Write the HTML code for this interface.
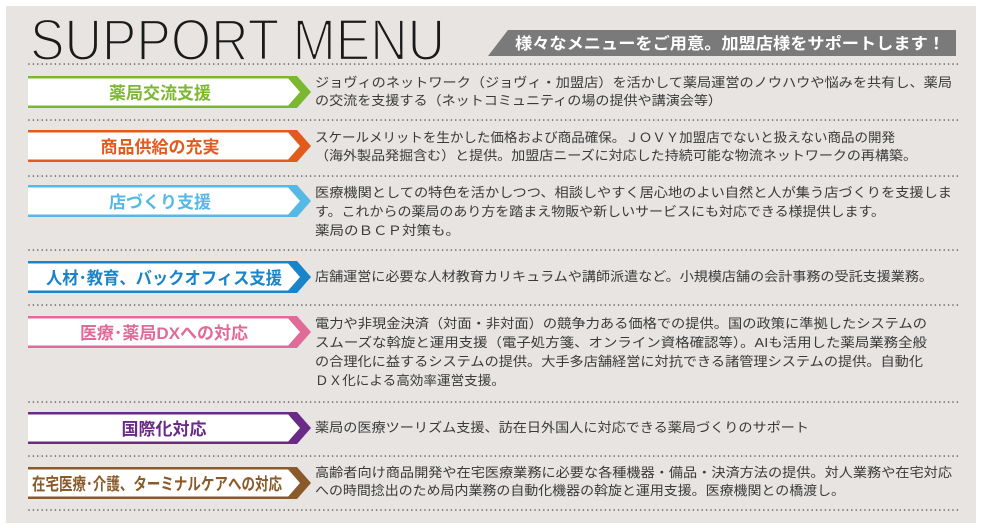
<!DOCTYPE html>
<html><head><meta charset="utf-8"><style>
html,body{margin:0;padding:0;background:#fff;}
svg{display:block;}
.t{font-family:"Liberation Sans","Noto Sans CJK JP",sans-serif;font-size:13px;fill:#3a3a3a;}
.l{font-family:"Liberation Sans","Noto Sans CJK JP",sans-serif;font-size:17px;font-weight:bold;text-anchor:middle;}
</style></head><body>
<svg width="981" height="528" viewBox="0 0 981 528" xmlns="http://www.w3.org/2000/svg">
<rect x="6" y="6" width="970" height="517" fill="#e7e4e1"/>
<text x="30" y="60" font-family="Liberation Sans, sans-serif" font-size="58" fill="#1a1a1a" textLength="415" lengthAdjust="spacingAndGlyphs" stroke="#e7e4e1" stroke-width="2.2" paint-order="normal">SUPPORT MENU</text>
<polygon points="508,30 956,30 956,56 488,56" fill="#7a7a7a"/>
<text x="515" y="49" font-family="Liberation Sans, Noto Sans CJK JP, sans-serif" font-size="16" font-weight="bold" fill="#fff" textLength="430" lengthAdjust="spacingAndGlyphs">様々なメニューをご用意。加盟店様をサポートします！</text>
<g stroke="#555" stroke-width="1.6" stroke-linecap="round" stroke-dasharray="0 4.4">
<line x1="29" y1="64" x2="958" y2="64"/>
<line x1="29" y1="120" x2="958" y2="120"/>
<line x1="29" y1="176" x2="958" y2="176"/>
<line x1="29" y1="250" x2="958" y2="250"/>
<line x1="29" y1="305" x2="958" y2="305"/>
<line x1="29" y1="402" x2="958" y2="402"/>
<line x1="29" y1="456" x2="958" y2="456"/>
<line x1="29" y1="510" x2="958" y2="510"/>
</g>
<g>
<polygon points="28,76 290,76 304,92 290,108 28,108" fill="#fff"/>
<rect x="28" y="76" width="262" height="2.5" fill="#7cb82f"/><rect x="28" y="105.5" width="262" height="2.5" fill="#7cb82f"/>
<polygon points="286,76 297,76 311,92 297,108 286,108 300,92" fill="#7cb82f"/>
<text class="l" x="160" y="99" fill="#7cb82f">薬局交流支援</text>
<polygon points="28,130 290,130 304,146 290,162 28,162" fill="#fff"/>
<rect x="28" y="130" width="262" height="2.5" fill="#e25a1c"/><rect x="28" y="159.5" width="262" height="2.5" fill="#e25a1c"/>
<polygon points="286,130 297,130 311,146 297,162 286,162 300,146" fill="#e25a1c"/>
<text class="l" x="160" y="153" fill="#e25a1c">商品供給の充実</text>
<polygon points="28,185 290,185 304,201 290,217 28,217" fill="#fff"/>
<rect x="28" y="185" width="262" height="2.5" fill="#55b9e6"/><rect x="28" y="214.5" width="262" height="2.5" fill="#55b9e6"/>
<polygon points="286,185 297,185 311,201 297,217 286,217 300,201" fill="#55b9e6"/>
<text class="l" x="160" y="208" fill="#55b9e6">店づくり支援</text>
<polygon points="28,261 290,261 304,277 290,293 28,293" fill="#fff"/>
<rect x="28" y="261" width="262" height="2.5" fill="#1a84c8"/><rect x="28" y="290.5" width="262" height="2.5" fill="#1a84c8"/>
<polygon points="286,261 297,261 311,277 297,293 286,293 300,277" fill="#1a84c8"/>
<text class="l" x="164" y="284" fill="#1a84c8" textLength="236" lengthAdjust="spacingAndGlyphs">人材･教育、バックオフィス支援</text>
<polygon points="28,316 290,316 304,332 290,348 28,348" fill="#fff"/>
<rect x="28" y="316" width="262" height="2.5" fill="#e06a98"/><rect x="28" y="345.5" width="262" height="2.5" fill="#e06a98"/>
<polygon points="286,316 297,316 311,332 297,348 286,348 300,332" fill="#e06a98"/>
<text class="l" x="164" y="339" fill="#e06a98">医療･薬局DXへの対応</text>
<polygon points="28,412 290,412 304,428 290,444 28,444" fill="#fff"/>
<rect x="28" y="412" width="262" height="2.5" fill="#6b2a86"/><rect x="28" y="441.5" width="262" height="2.5" fill="#6b2a86"/>
<polygon points="286,412 297,412 311,428 297,444 286,444 300,428" fill="#6b2a86"/>
<text class="l" x="164" y="435" fill="#6b2a86">国際化対応</text>
<polygon points="28,467 290,467 304,483 290,499 28,499" fill="#fff"/>
<rect x="28" y="467" width="262" height="2.5" fill="#8a5a2a"/><rect x="28" y="496.5" width="262" height="2.5" fill="#8a5a2a"/>
<polygon points="286,467 297,467 311,483 297,499 286,499 300,483" fill="#8a5a2a"/>
<text class="l" x="157" y="490" fill="#8a5a2a" font-size="15" textLength="250" lengthAdjust="spacingAndGlyphs">在宅医療･介護、ターミナルケアへの対応</text>
</g>
<text class="t" x="315" y="87" textLength="637" lengthAdjust="spacingAndGlyphs">ジョヴィのネットワーク（ジョヴィ・加盟店）を活かして薬局運営のノウハウや悩みを共有し、薬局</text>
<text class="t" x="315" y="105" textLength="407" lengthAdjust="spacingAndGlyphs">の交流を支援する（ネットコミュニティの場の提供や講演会等）</text>
<text class="t" x="315" y="142" textLength="580" lengthAdjust="spacingAndGlyphs">スケールメリットを生かした価格および商品確保。ＪＯＶＹ加盟店でないと扱えない商品の開発</text>
<text class="t" x="315" y="160" textLength="602" lengthAdjust="spacingAndGlyphs">（海外製品発掘含む）と提供。加盟店ニーズに対応した持続可能な物流ネットワークの再構築。</text>
<text class="t" x="315" y="197" textLength="637" lengthAdjust="spacingAndGlyphs">医療機関としての特色を活かしつつ、相談しやすく居心地のよい自然と人が集う店づくりを支援しま</text>
<text class="t" x="315" y="216" textLength="570" lengthAdjust="spacingAndGlyphs">す。これからの薬局のあり方を踏まえ物販や新しいサービスにも対応できる様提供します。</text>
<text class="t" x="315" y="235" textLength="145" lengthAdjust="spacingAndGlyphs">薬局のＢＣＰ対策も。</text>
<text class="t" x="315" y="281" textLength="618" lengthAdjust="spacingAndGlyphs">店舗運営に必要な人材教育カリキュラムや講師派遣など。小規模店舗の会計事務の受託支援業務。</text>
<text class="t" x="315" y="328" textLength="612" lengthAdjust="spacingAndGlyphs">電力や非現金決済（対面・非対面）の競争力ある価格での提供。国の政策に準拠したシステムの</text>
<text class="t" x="315" y="347" textLength="612" lengthAdjust="spacingAndGlyphs">スムーズな斡旋と運用支援（電子処方箋、オンライン資格確認等）。AIも活用した薬局業務全般</text>
<text class="t" x="315" y="366" textLength="608" lengthAdjust="spacingAndGlyphs">の合理化に益するシステムの提供。大手多店舗経営に対抗できる諸管理システムの提供。自動化</text>
<text class="t" x="315" y="385" textLength="190" lengthAdjust="spacingAndGlyphs">ＤＸ化による高効率運営支援。</text>
<text class="t" x="315" y="432" textLength="494" lengthAdjust="spacingAndGlyphs">薬局の医療ツーリズム支援、訪在日外国人に対応できる薬局づくりのサポート</text>
<text class="t" x="315" y="477" textLength="637" lengthAdjust="spacingAndGlyphs">高齢者向け商品開発や在宅医療業務に必要な各種機器・備品・決済方法の提供。対人業務や在宅対応</text>
<text class="t" x="315" y="495" textLength="530" lengthAdjust="spacingAndGlyphs">への時間捻出のため局内業務の自動化機器の斡旋と運用支援。医療機関との橋渡し。</text>
</svg>
</body></html>
